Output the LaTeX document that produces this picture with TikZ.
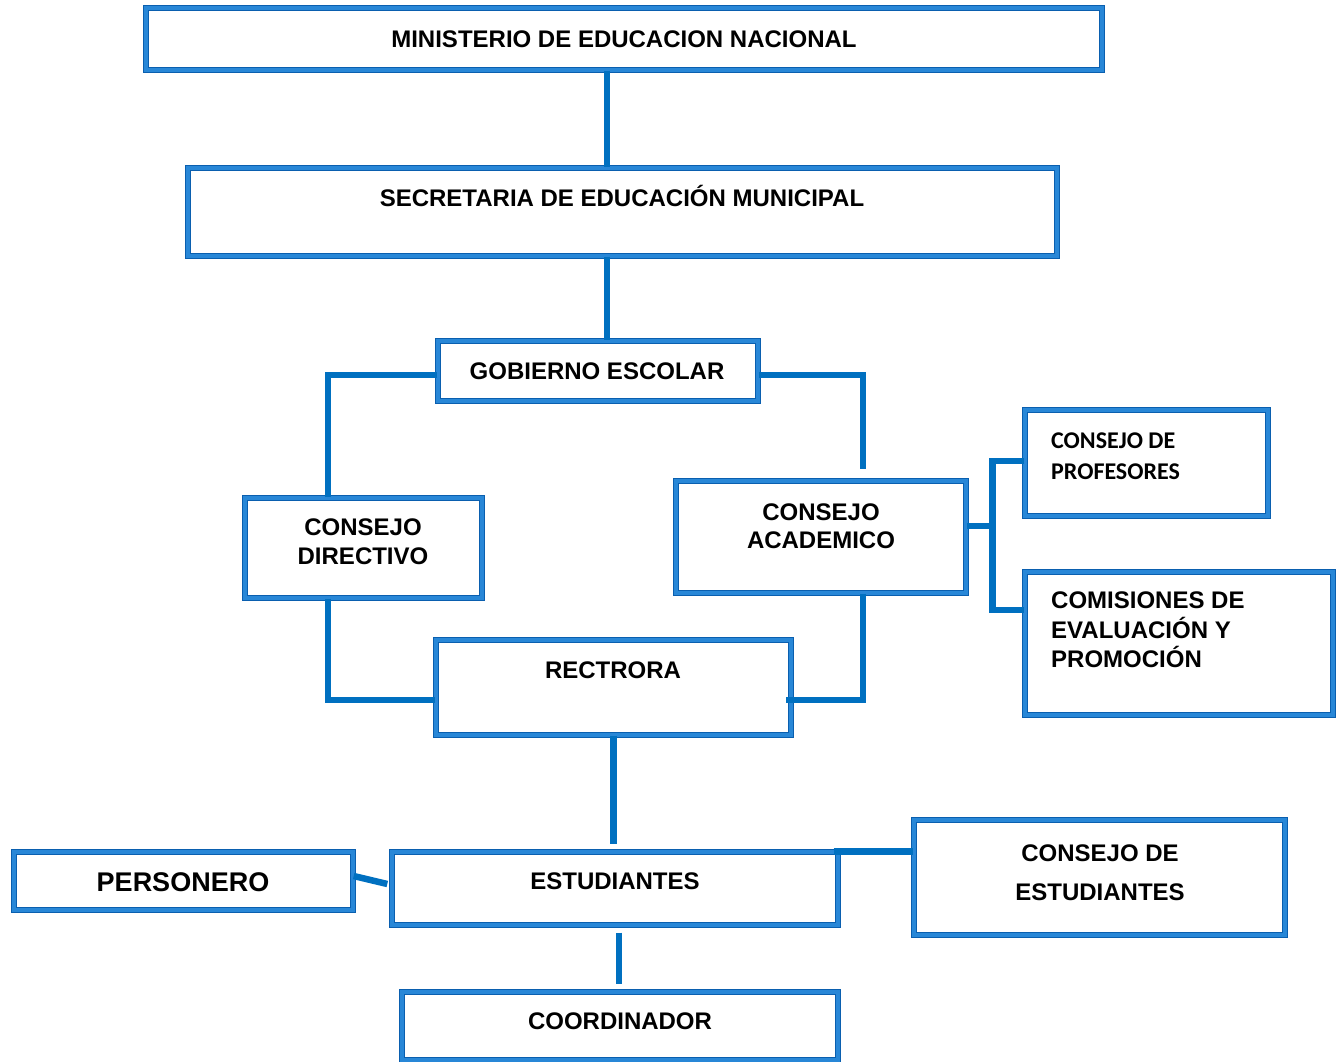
\documentclass[tikz,border=0pt]{standalone}
\usepackage{fontspec}
\setmainfont{Liberation Sans}
\newfontfamily\carlito{Carlito}
\usepackage{tikz}
\usetikzlibrary{positioning, shadows, calc}
\definecolor{azulcaja}{RGB}{10,95,175}
\definecolor{azulclaro}{RGB}{40,135,215}
\definecolor{azullinea}{RGB}{0,112,192}
\tikzset{
    caja/.style={draw=azulcaja, double=azulclaro, line width=1.4pt, double distance=4pt,
        fill=white, rectangle, inner sep=0pt,
        drop shadow={shadow xshift=2pt, shadow yshift=-3pt, opacity=0.3}},
    rotulo/.style={font=\bfseries\fontsize{24}{29}\selectfont, align=center, inner sep=0pt},
    linea/.style={draw=azullinea, line width=6.5pt}
}

\begin{document}
\begin{tikzpicture}[x=1pt, y=-1pt]
    \useasboundingbox (0,0) rectangle (1343,1062);

    % cajas
    \node [caja, minimum width=956pt, minimum height=62pt] (min) at (624,39) {};
    \node [caja, minimum width=869pt, minimum height=88pt] (sec) at (622.5,212) {};
    \node [caja, minimum width=320pt, minimum height=60pt] (gob) at (598,371) {};
    \node [caja, minimum width=237pt, minimum height=100pt] (dir) at (363.5,548) {};
    \node [caja, minimum width=290pt, minimum height=112pt] (aca) at (821,537) {};
    \node [caja, minimum width=243pt, minimum height=106pt] (prof) at (1146.5,463) {};
    \node [caja, minimum width=308pt, minimum height=143pt] (com) at (1179,643.5) {};
    \node [caja, minimum width=355pt, minimum height=95pt] (rec) at (613.5,687.5) {};
    \node [caja, minimum width=339pt, minimum height=58pt] (pers) at (183.5,881) {};
    \node [caja, minimum width=446pt, minimum height=73pt] (est) at (615,888.5) {};
    \node [caja, minimum width=371pt, minimum height=115pt] (cest) at (1099.5,877.5) {};
    \node [caja, minimum width=436pt, minimum height=68pt] (coord) at (620,1026) {};

    % textos
    \node [rotulo] (minT) at (624,39) {MINISTERIO DE EDUCACION NACIONAL};
    \node [rotulo] (secT) at (622,196) {SECRETARIA DE EDUCACIÓN MUNICIPAL};
    \node [rotulo] (gobT) at (597,371) {GOBIERNO ESCOLAR};
    \node [rotulo] (dirT) at (363,542) {CONSEJO\\DIRECTIVO};
    \node [rotulo, font=\bfseries\fontsize{24}{28}\selectfont] (acaT) at (821,526) {CONSEJO\\ACADEMICO};
    \node [rotulo, align=left, anchor=west, font=\carlito\bfseries\fontsize{24}{31}\selectfont] (profT) at (1051,456) {CONSEJO DE\\PROFESORES};
    \node [rotulo, align=left, anchor=west, font=\bfseries\fontsize{24}{29.5}\selectfont] (comT) at (1051,630) {COMISIONES DE\\EVALUACIÓN Y\\PROMOCIÓN};
    \node [rotulo] (recT) at (613,670) {RECTRORA};
    \node [rotulo, font=\bfseries\fontsize{27}{32}\selectfont] (persT) at (183,882) {PERSONERO};
    \node [rotulo] (estT) at (615,881) {ESTUDIANTES};
    \node [rotulo, font=\bfseries\fontsize{24}{39}\selectfont] (cestT) at (1100,873) {CONSEJO DE\\ESTUDIANTES};
    \node [rotulo] (coordT) at (620,1021) {COORDINADOR};

    % conectores
    \draw [linea] ([xshift=-17pt]min.south) -- ([xshift=-15.5pt]sec.north);
    \draw [linea] ([xshift=-15.5pt]sec.south) -- ([xshift=9pt]gob.north);
    \draw [linea] ([yshift=-4pt]gob.west) -| ([xshift=-35.5pt]dir.north);
    \draw [linea] ([yshift=-4pt]gob.east) -| ([xshift=42pt, yshift=11pt]aca.north);
    \draw [linea] ([xshift=-35.5pt]dir.south) |- ([yshift=-12.5pt]rec.west);
    \draw [linea] ([xshift=42pt]aca.south) |- ([xshift=-6pt, yshift=-12.5pt]rec.east);
    \draw [linea] ([yshift=11pt]aca.east) -- ++(27pt,0);
    \draw [linea] ([yshift=2pt]prof.west) -- ++(-32pt,0) |- ([yshift=33.5pt]com.west);
    \draw [linea] (rec.south) -- ([yshift=7pt]rec.south |- est.north);
    \draw [linea] ([yshift=5pt]pers.east) -- ([xshift=-4pt, yshift=4.5pt]est.west);
    \draw [linea] ([xshift=-5pt]est.north east) -- (est.north east -| cest.west);
    \draw [linea] ([xshift=4pt, yshift=-7pt]est.south) -- ([xshift=-1pt, yshift=7pt]coord.north);
\end{tikzpicture}
\end{document}
